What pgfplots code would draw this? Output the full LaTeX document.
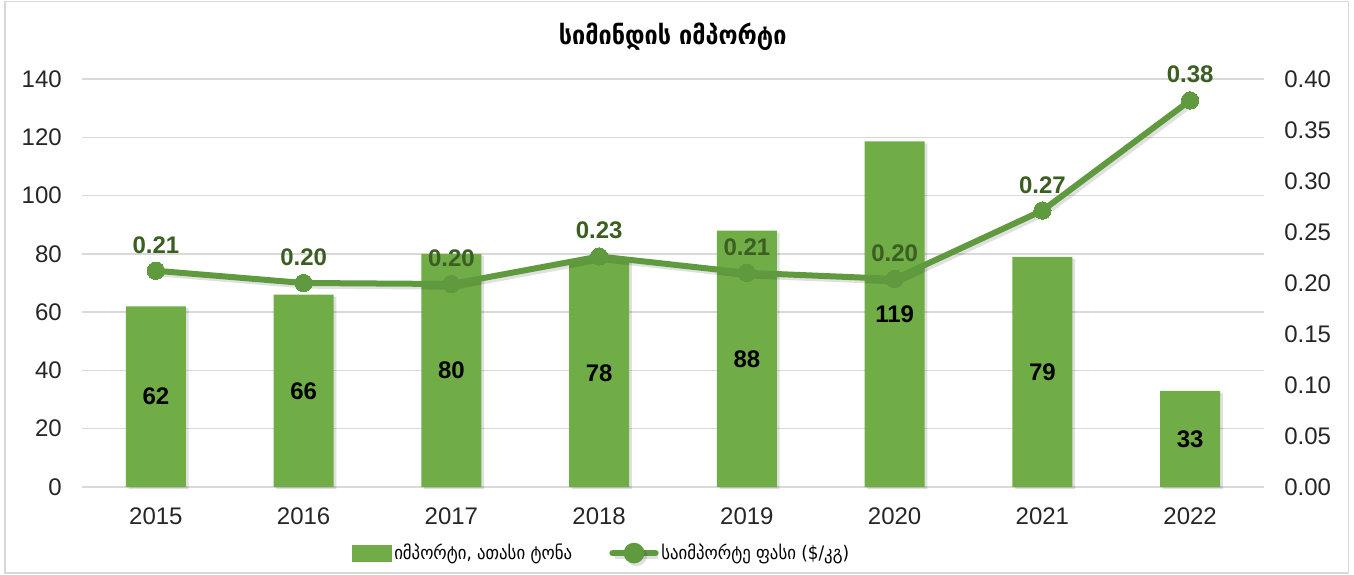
\documentclass[border=0pt]{standalone}
\usepackage{fontspec}
\usepackage{pgfplots}
\usepackage{pgfplotstable}
\pgfplotsset{compat=1.18}
\setmainfont{Liberation Sans}
\newfontfamily\geo{DejaVu Sans Condensed}
\definecolor{barg}{HTML}{70AD47}
\definecolor{lineg}{HTML}{5F9B3E}
\definecolor{labg}{HTML}{3B5E23}
\definecolor{gridc}{HTML}{D9D9D9}
\pgfplotsset{/pgf/number format/assume math mode=true}

\pgfplotstableread{
x imp price
0 62 0.212
1 66 0.200
2 80 0.199
3 78 0.226
4 88 0.210
5 118.6 0.204
6 79 0.271
7 33 0.379
}\data

\begin{document}
\begin{tikzpicture}
\useasboundingbox (-61.5pt,-66pt) rectangle (954pt,365.25pt);
\fill[white] (-61.5pt,-66pt) rectangle (954pt,365.25pt);
\draw[gridc, line width=1.2pt] (-57.75pt,-64.5pt) rectangle (950pt,364pt);

\begin{axis}[
  at={(0,0)}, anchor=south west, scale only axis,
  width=886.5pt, height=306pt,
  xmin=-0.5, xmax=7.5, ymin=0, ymax=140,
  xtick={0,1,2,3,4,5,6,7},
  xticklabels={2015,2016,2017,2018,2019,2020,2021,2022},
  ytick={0,20,40,60,80,100,120,140},
  ymajorgrids, grid style={gridc, line width=1pt},
  axis line style={draw=none},
  major tick length=0pt,
  tick label style={font=\fontsize{18}{21}\selectfont, black!85},
  yticklabel style={inner sep=0pt, xshift=-15pt},
  xticklabel style={inner sep=0pt, yshift=-15pt, anchor=north},
  axis y line*=left,
  clip=false,
]
\addplot[ybar, bar width=45pt, fill=barg, draw=none,
  preaction={fill=black, opacity=0.12, transform canvas={xshift=2pt, yshift=-1.5pt}}]
  table[x=x, y=imp]{\data};
\addplot[draw=none, mark=none, nodes near coords, point meta=explicit,
  every node near coord/.append style={font=\bfseries\fontsize{18}{21}\selectfont, black,
    anchor=center, inner sep=0pt,
    /pgf/number format/fixed, /pgf/number format/precision=0}]
  table[x=x, y expr=\thisrow{imp}/2, meta=imp]{\data};
\end{axis}

\begin{axis}[
  at={(0,0)}, anchor=south west, scale only axis,
  width=886.5pt, height=306pt,
  xmin=-0.5, xmax=7.5, ymin=0, ymax=0.4,
  axis y line*=right, axis x line=none,
  axis line style={draw=none},
  major tick length=0pt,
  ytick={0,0.05,0.1,0.15,0.2,0.25,0.3,0.35,0.4},
  tick label style={font=\fontsize{18}{21}\selectfont, black!85},
  yticklabel style={inner sep=0pt, xshift=15pt, anchor=west,
    /pgf/number format/.cd, fixed, fixed zerofill, precision=2},
  clip=false,
  legend style={at={(0.44,-0.162)}, anchor=center, draw=none, fill=none,
    legend columns=2, font=\geo\fontsize{14}{16}\selectfont,
    /tikz/every even column/.append style={column sep=26pt}},
]
\addlegendimage{legend image code/.code={\fill[barg] (0pt,-6pt) rectangle (29pt,6pt);}}
\addlegendentry{იმპორტი, ათასი ტონა}
\addplot[lineg, line width=4.5pt, line join=round, mark=*, mark size=6.5pt,
  mark options={fill=lineg, draw=lineg, line width=0pt},
  preaction={draw=black, opacity=0.12, transform canvas={xshift=2pt, yshift=-2pt}},
  nodes near coords, point meta=y,
  every node near coord/.append style={font=\bfseries\fontsize{18}{21}\selectfont, labg,
    anchor=south, inner sep=0pt, yshift=13pt,
    /pgf/number format/fixed, /pgf/number format/fixed zerofill, /pgf/number format/precision=2},
  legend image code/.code={\draw[lineg, line width=5pt, line cap=round] (0pt,0pt) -- (32pt,0pt);
    \fill[lineg] (16pt,0pt) circle (5.5pt);}]
  table[x=x, y=price]{\data};
\addlegendentry{საიმპორტე ფასი (\$/კგ)}
\end{axis}

\node[font=\geo\bfseries\fontsize{19.5}{22}\selectfont] at (443pt,338pt) {სიმინდის იმპორტი};
\end{tikzpicture}
\end{document}
